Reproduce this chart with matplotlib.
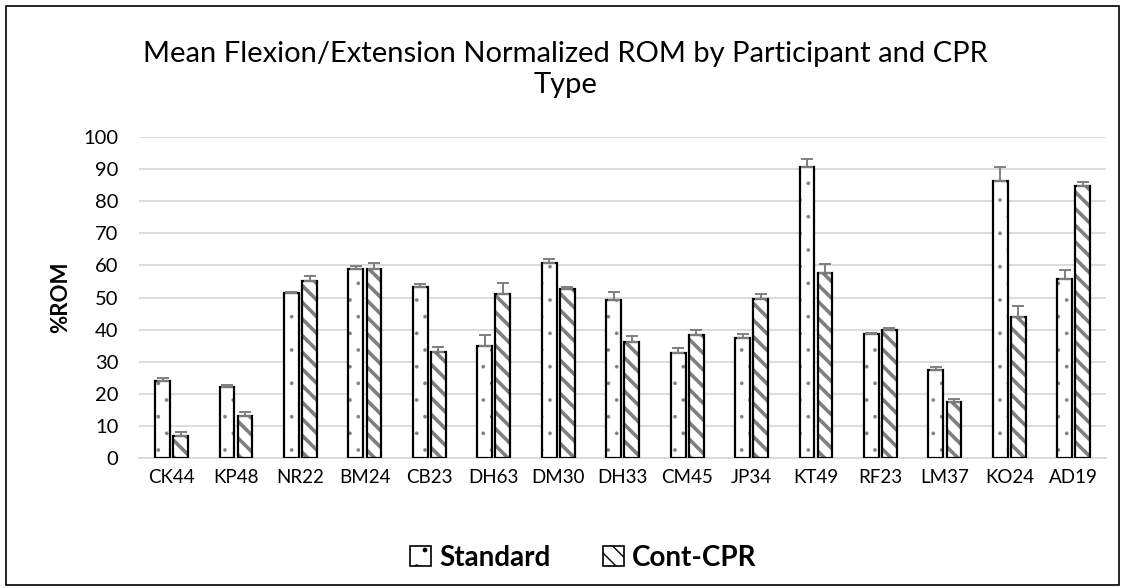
import numpy as np
import matplotlib.pyplot as plt
from matplotlib.patches import Rectangle, Patch

plt.rcParams['font.family'] = ['Lato', 'DejaVu Sans']

participants = ['CK44', 'KP48', 'NR22', 'BM24', 'CB23', 'DH63', 'DM30', 'DH33',
                'CM45', 'JP34', 'KT49', 'RF23', 'LM37', 'KO24', 'AD19']
standard = [24.1, 22.1, 51.3, 59.0, 53.4, 35.0, 60.7, 49.3,
            32.7, 37.5, 90.7, 38.7, 27.3, 86.3, 55.8]
standard_err = [0.9, 0.6, 0.4, 0.7, 0.7, 3.3, 1.2, 2.3,
                1.7, 1.2, 2.3, 0.3, 1.1, 4.4, 2.9]
cont_cpr = [6.9, 13.2, 55.1, 58.9, 32.9, 51.1, 52.8, 36.2,
            38.2, 49.5, 57.5, 40.0, 17.5, 43.8, 84.8]
cont_err = [1.1, 1.3, 1.7, 1.8, 1.7, 3.3, 0.4, 1.7,
            1.6, 1.5, 2.9, 0.6, 1.0, 3.5, 1.1]

GRAY = '#7F7F7F'
GRID = '#D9D9D9'


def set_hatch_lw(patches, lw):
    for p in patches:
        if hasattr(p, 'set_hatch_linewidth'):
            p.set_hatch_linewidth(lw)
        else:
            p._hatch_linewidth = lw


fig = plt.figure(figsize=(11.24, 5.88), dpi=100)
ax = fig.add_axes([0.124, 0.221, 0.860, 0.546])

x = np.arange(len(participants))
w = 0.23
off = 0.14

# fill + hatch in gray, then black outline on top
std_fill = ax.bar(x - off, standard, w, color='white', edgecolor=GRAY, hatch='.',
                  linewidth=0, zorder=2)
cont_fill = ax.bar(x + off, cont_cpr, w, color='white', edgecolor=GRAY, hatch='\\\\',
                   linewidth=0, zorder=2)
set_hatch_lw(std_fill, 0.2)
set_hatch_lw(cont_fill, 2.6)
ax.bar(x - off, standard, w, color='none', edgecolor='black', linewidth=1.6, zorder=3)
ax.bar(x + off, cont_cpr, w, color='none', edgecolor='black', linewidth=1.6, zorder=3)

zeros = np.zeros(len(participants))
ax.errorbar(x - off, standard, yerr=[zeros, standard_err], fmt='none', ecolor=GRAY,
            elinewidth=1.4, capsize=4.5, capthick=1.4, zorder=4)
ax.errorbar(x + off, cont_cpr, yerr=[zeros, cont_err], fmt='none', ecolor=GRAY,
            elinewidth=1.4, capsize=4.5, capthick=1.4, zorder=4)

ax.set_xlim(-0.5, len(participants) - 0.5)
ax.set_ylim(0, 100)
ax.set_yticks(range(0, 101, 10))
ax.set_xticks(x)
ax.set_xticklabels(participants)
ax.yaxis.grid(True, color=GRID, linewidth=1.3, zorder=0)
ax.set_axisbelow(True)
for s in ['top', 'right', 'left']:
    ax.spines[s].set_visible(False)
ax.spines['bottom'].set_color(GRID)
ax.spines['bottom'].set_linewidth(1.3)
ax.tick_params(axis='y', length=0, pad=15, labelsize=14.5, colors='#000000')
ax.tick_params(axis='x', length=0, pad=8, labelsize=13.5)
ax.set_ylabel('%ROM', fontsize=16, fontweight='bold', labelpad=9)

fig.text(0.503, 0.882, 'Mean Flexion/Extension Normalized ROM by Participant and CPR\nType',
         ha='center', va='center', fontsize=21, linespacing=1.25)

handles = [Patch(facecolor='white', edgecolor='black', hatch='.', linewidth=1.2),
           Patch(facecolor='white', edgecolor='black', hatch='\\\\', linewidth=1.2)]
leg = fig.legend(handles, ['Standard', 'Cont-CPR'], loc='center', bbox_to_anchor=(0.519, 0.051),
                 ncol=2, frameon=False, prop={'size': 20, 'weight': 'bold'},
                 handlelength=0.75, handleheight=0.75, handletextpad=0.3, columnspacing=1.9)
set_hatch_lw(leg.get_patches(), 1.0)

fig.add_artist(Rectangle((6 / 1124, 3 / 588), 1113 / 1124, 579 / 588,
                         transform=fig.transFigure, fill=False,
                         edgecolor='black', linewidth=1.2))

fig.savefig('out.png', dpi=100)
